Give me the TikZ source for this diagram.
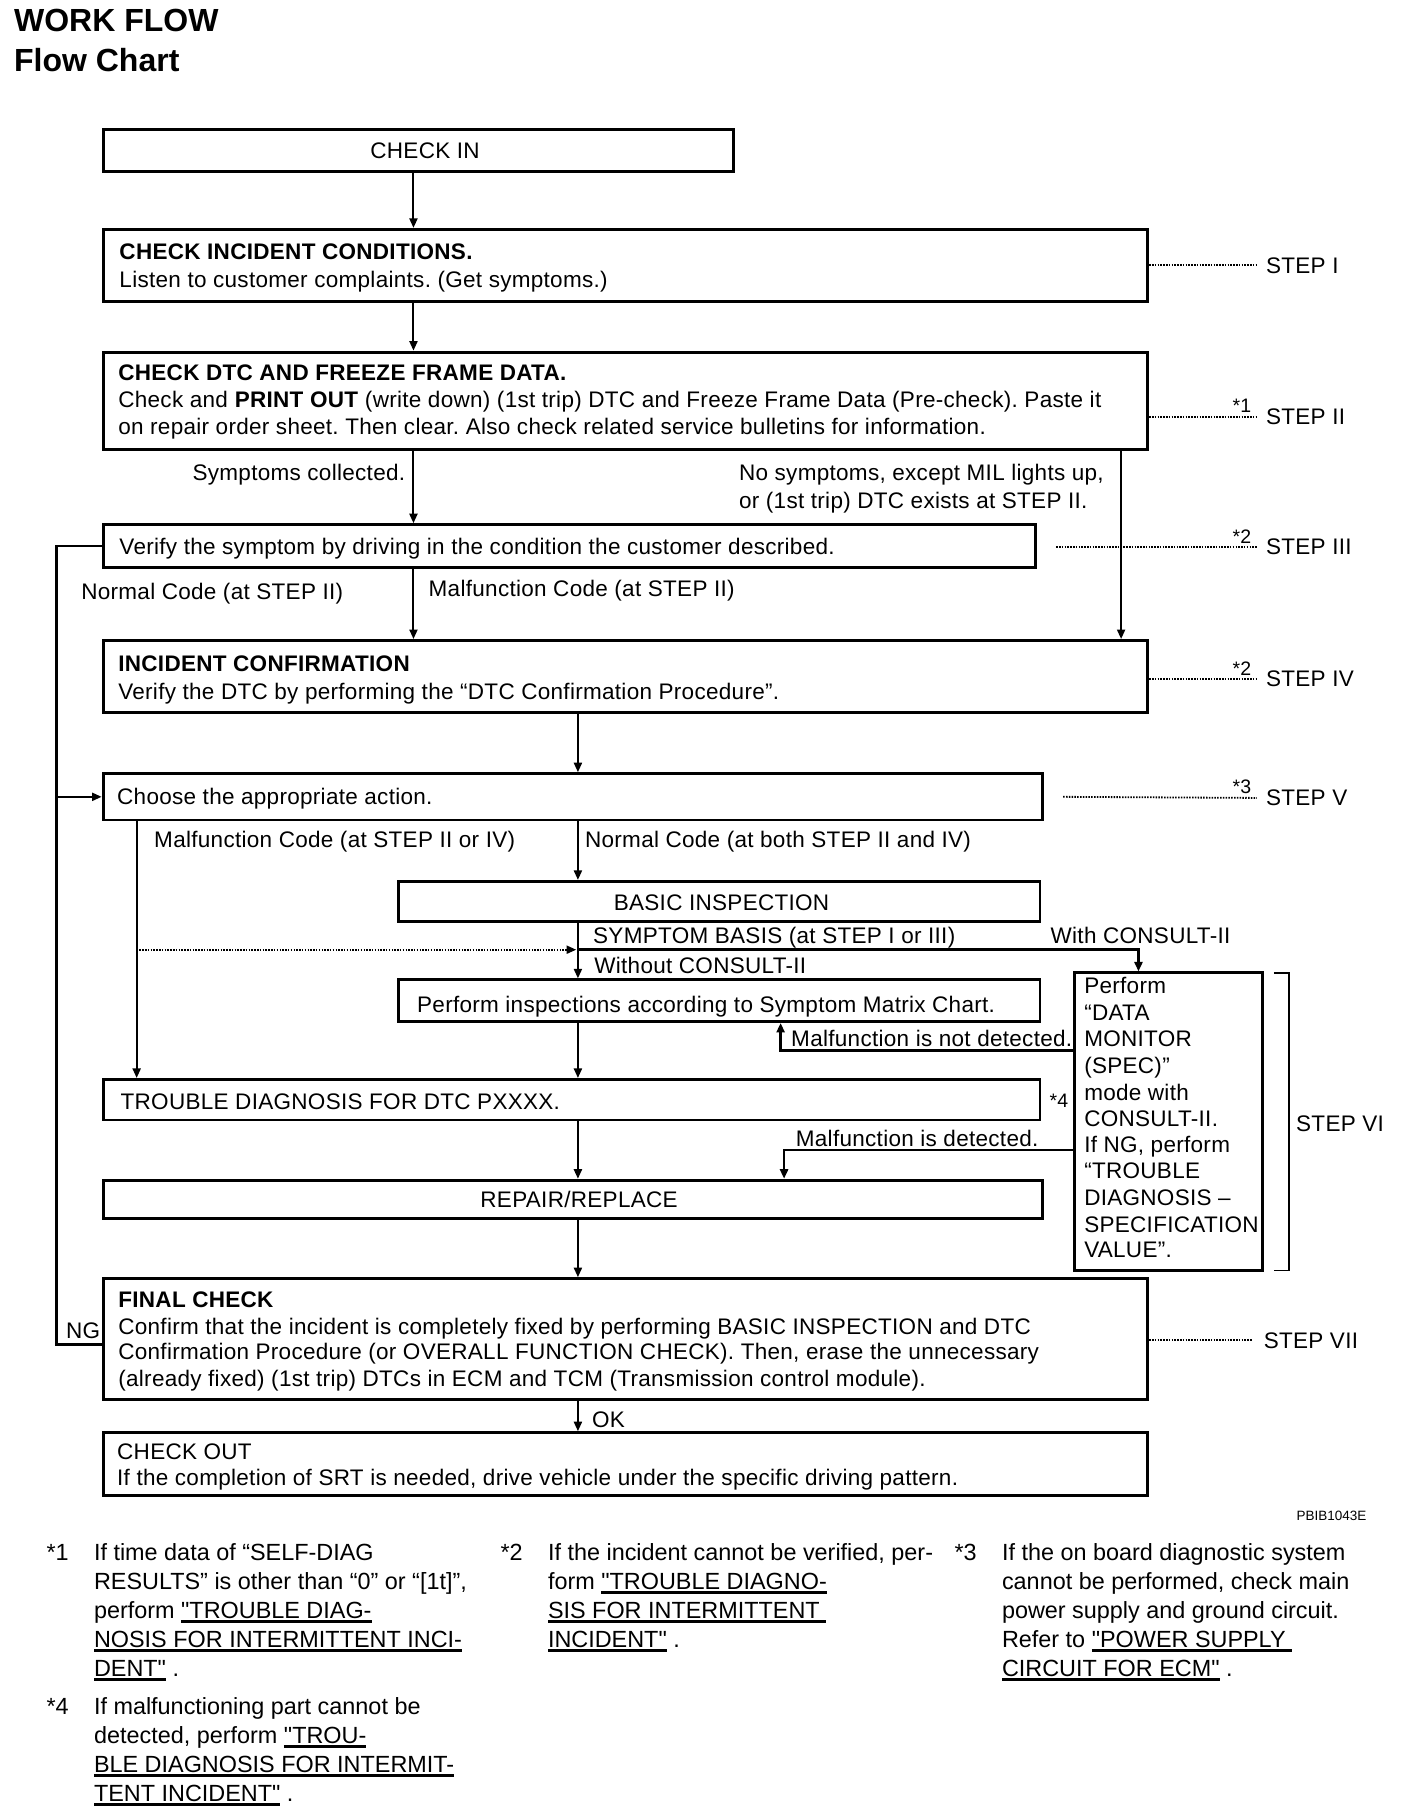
\documentclass[tikz,border=0pt]{standalone}
\usepackage{fontspec}
\setmainfont{Liberation Sans}[Ligatures=TeXOff,LetterSpace=1.3]
\newfontfamily\fnfont{Liberation Sans}[Ligatures=TeXOff]
\usetikzlibrary{arrows.meta,calc,fit}
\newcommand\myul[1]{\setbox0=\hbox{#1}\rlap{\rule[-4.5pt]{\wd0}{2.8pt}}\box0}
\frenchspacing
\begin{document}
\begin{tikzpicture}[x=1.15789pt,y=-1.15789pt,
  box/.style={draw,line width=2.9pt,inner sep=0pt},
  txt/.style={inner sep=0pt,anchor=west,text height=16pt,text depth=0pt,font=\fontsize{22.5}{27}\selectfont},
  txtc/.style={txt,anchor=center},
  txte/.style={txt,anchor=east},
  star/.style={inner sep=0pt,anchor=west,text height=14pt,text depth=0pt,font=\fontsize{19.5}{23}\selectfont},
  fn/.style={inner sep=0pt,anchor=west,text height=17pt,text depth=0pt,font=\fontsize{23.4}{28}\fnfont\frenchspacing},
  ttl/.style={inner sep=0pt,anchor=west,text height=23pt,text depth=0pt,font=\fontsize{32}{38}\fnfont\bfseries},
  tip/.style={-{Triangle[length=9.5pt,width=8pt]}},
  arr/.style={line width=2pt,tip},
  ln/.style={line width=1.8pt},
  thk/.style={line width=2.8pt},
  dots/.style={line width=1.8pt,dash pattern=on 1.5pt off 1.3pt},
]
\path[use as bounding box,fill=white] (0,0) rectangle (1216,1568);

% title
\node[ttl] (h1) at (12,17) {WORK FLOW};
\node[ttl] (h2) at (12,52) {Flow Chart};

% boxes
\node[box,fit={(89,112) (633,148)}] (checkin) {};
\node[box,fit={(89,198) (991,260)}] (cic) {};
\node[box,fit={(89,304) (991,388)}] (dtc) {};
\node[box,fit={(89,453) (894,490)}] (verify) {};
\node[box,fit={(89,553) (991,615)}] (ic) {};
\node[box,fit={(89,668) (900,708)}] (choose) {};
\node[box,fit={(344,761) (898,796)}] (basic) {};
\node[box,fit={(344,846) (898,882)}] (perfinsp) {};
\node[box,fit={(89,932) (898,967)}] (trouble) {};
\node[box,fit={(89,1019) (900,1052)}] (repair) {};
\node[box,fit={(89,1104) (991,1208)}] (final) {};
\node[box,fit={(89,1237) (991,1291)}] (checkout) {};
\node[box,fit={(928,840) (1090,1097)}] (perform) {};

% box texts
\node[txtc] (tci) at (367,130) {CHECK IN};
\node[txt,font=\fontsize{22.5}{27}\selectfont\bfseries] (tcic1) at (103,217) {CHECK INCIDENT CONDITIONS.};
\node[txt] (tcic2) at (103,241) {Listen to customer complaints. (Get symptoms.)};
\node[txt,font=\fontsize{22.5}{27}\selectfont\bfseries] (tdtc1) at (102,322) {CHECK DTC AND FREEZE FRAME DATA.};
\node[txt] (tdtc2) at (102,345) {Check and \textbf{PRINT OUT} (write down) (1st trip) DTC and Freeze Frame Data (Pre-check). Paste it};
\node[txt] (tdtc3) at (102,368) {on repair order sheet. Then clear. Also check related service bulletins for information.};
\node[txt] (tver) at (103,472) {Verify the symptom by driving in the condition the customer described.};
\node[txt,font=\fontsize{22.5}{27}\selectfont\bfseries] (tic1) at (102,573) {INCIDENT CONFIRMATION};
\node[txt] (tic2) at (102,597) {Verify the DTC by performing the “DTC Confirmation Procedure”.};
\node[txt] (tcho) at (101,688) {Choose the appropriate action.};
\node[txtc] (tbas) at (623,779) {BASIC INSPECTION};
\node[txt] (tpi) at (360,867) {Perform inspections according to Symptom Matrix Chart.};
\node[txt] (ttro) at (104,951) {TROUBLE DIAGNOSIS FOR DTC PXXXX.};
\node[txtc] (trep) at (500,1036) {REPAIR/REPLACE};
\node[txt,font=\fontsize{22.5}{27}\selectfont\bfseries] (tfc1) at (102,1122) {FINAL CHECK};
\node[txt] (tfc2) at (102,1145) {Confirm that the incident is completely fixed by performing BASIC INSPECTION and DTC};
\node[txt] (tfc3) at (102,1167) {Confirmation Procedure (or OVERALL FUNCTION CHECK). Then, erase the unnecessary};
\node[txt] (tfc4) at (102,1190) {(already fixed) (1st trip) DTCs in ECM and TCM (Transmission control module).};
\node[txt] (tco1) at (101,1253) {CHECK OUT};
\node[txt] (tco2) at (101,1276) {If the completion of SRT is needed, drive vehicle under the specific driving pattern.};

% consult box text
\node[txt] (p1) at (936,851) {Perform};
\node[txt] (p2) at (936,874) {“DATA};
\node[txt] (p3) at (936,897) {MONITOR};
\node[txt] (p4) at (936,920) {(SPEC)”};
\node[txt] (p5) at (936,943) {mode with};
\node[txt] (p6) at (936,966) {CONSULT-II.};
\node[txt] (p7) at (936,988) {If NG, perform};
\node[txt] (p8) at (936,1011) {“TROUBLE};
\node[txt] (p9) at (936,1034) {DIAGNOSIS –};
\node[txt] (p10) at (936,1057) {SPECIFICATION};
\node[txt] (p11) at (936,1079) {VALUE”.};

% connector labels
\node[txte] (lsc) at (350,408) {Symptoms collected.};
\node[txt] (lns1) at (638,408) {No symptoms, except MIL lights up,};
\node[txt] (lns2) at (638,432) {or (1st trip) DTC exists at STEP II.};
\node[txt] (lnc) at (70,511) {Normal Code (at STEP II)};
\node[txt] (lmc) at (370,508) {Malfunction Code (at STEP II)};
\node[txt] (lmc2) at (133,725) {Malfunction Code (at STEP II or IV)};
\node[txt] (lnc2) at (505,725) {Normal Code (at both STEP II and IV)};
\node[txt] (lsb) at (512,808) {SYMPTOM BASIS (at STEP I or III)};
\node[txt] (lwc) at (907,808) {With CONSULT-II};
\node[txt] (lwoc) at (513,834) {Without CONSULT-II};
\node[txt] (lnd) at (683,897) {Malfunction is not detected.};
\node[txt] (ld) at (687,983) {Malfunction is detected.};
\node[txt] (lng) at (57,1149) {NG};
\node[txt] (lok) at (511,1226) {OK};
\node[star] (s4) at (906,950) {*4};
\node[inner sep=0pt,anchor=east,font=\fontsize{13.5}{16}\fnfont] (code) at (1180,1309) {PBIB1043E};

% step labels
\node[txt] (st1) at (1093,229) {STEP I};
\node[txt] (st2) at (1093,360) {STEP II};
\node[txt] (st3) at (1093,472) {STEP III};
\node[txt] (st4) at (1093,586) {STEP IV};
\node[txt] (st5) at (1093,689) {STEP V};
\node[txt] (st6) at (1119,970) {STEP VI};
\node[txt] (st7) at (1091,1157) {STEP VII};
\node[star] (a1) at (1064,350) {*1};
\node[star] (a2) at (1064,463) {*2};
\node[star] (a3) at (1064,577) {*2};
\node[star] (a4) at (1064,679) {*3};

% dotted step lines
\coordinate (s3) at (912,472);
\coordinate (s5) at (918,688);
\draw[dots,shorten >=9pt] (cic.east |- st1.west) -- (st1.west);
\draw[dots,shorten >=9pt] (dtc.east |- st2.west) -- (st2.west);
\draw[dots,shorten >=9pt] (s3) -- (st3.west);
\draw[dots,shorten >=9pt] (ic.east |- st4.west) -- (st4.west);
\draw[dots,shorten >=9pt] (s5) -- (st5.west);
\draw[dots,shorten >=12pt] (final.east |- st7.west) -- (st7.west);

% STEP VI bracket
\coordinate (bt) at (1100,840);
\coordinate (bb) at (1100,1097);
\draw[ln] (bt) -- ++(13,0) |- (bb);

% columns
\coordinate (colA) at (357,0);
\coordinate (colB) at (499,0);
\coordinate (colC) at (968,0);
\coordinate (colD) at (118,0);
\coordinate (colL) at (49,0);
\coordinate (colE) at (983,0);
\coordinate (colF) at (674,0);
\coordinate (colG) at (677,0);
\coordinate (ngy) at (0,1161);

% main arrows
\draw[arr] (colA |- checkin.south) -- (colA |- cic.north);
\draw[arr] (colA |- cic.south) -- (colA |- dtc.north);
\draw[arr] (colA |- dtc.south) -- (colA |- verify.north);
\draw[arr] (colA |- verify.south) -- (colA |- ic.north);
\draw[arr] (colC |- dtc.south) -- (colC |- ic.north);
\draw[arr] (colB |- ic.south) -- (colB |- choose.north);
\draw[arr] (colB |- choose.south) -- (colB |- basic.north);
\draw[arr] (colB |- basic.south) -- (colB |- perfinsp.north);
\draw[arr] (colB |- perfinsp.south) -- (colB |- trouble.north);
\draw[arr] (colB |- trouble.south) -- (colB |- repair.north);
\draw[arr] (colB |- repair.south) -- (colB |- final.north);
\draw[arr] (colB |- final.south) -- (colB |- checkout.north);
\draw[arr] (colD |- choose.south) -- (colD |- trouble.north);

% symptom basis branch
\coordinate (sb) at (499,820);
\draw[dots,tip] (colD |- sb) -- ($(sb)+(-1.5,0)$);
\draw[thk,tip] (sb) -| (colE |- perform.north);

% loop NG / normal code
\draw[thk] (verify.west) -| (colL |- ngy) -- (final.west |- ngy);
\draw[arr] (colL |- choose.west) -- (choose.west);

% consult results
\coordinate (nd) at (928,907);
\coordinate (dd) at (928,993);
\draw[thk,tip] (nd) -| (colF |- perfinsp.south);
\draw[thk,tip] (dd) -| (colG |- repair.north);

% footnotes
\node[fn] (f1m) at (40,1340) {*1};
\node[fn] (f11) at (81,1340) {If time data of “SELF-DIAG};
\node[fn] (f12) at (81,1365) {RESULTS” is other than “0” or “[1t]”,};
\node[fn] (f13) at (81,1390) {perform \myul{"TROUBLE DIAG-}};
\node[fn] (f14) at (81,1415) {\myul{NOSIS FOR INTERMITTENT INCI-}};
\node[fn] (f15) at (81,1440) {\myul{DENT"}\ .};
\node[fn] (f4m) at (40,1473) {*4};
\node[fn] (f41) at (81,1473) {If malfunctioning part cannot be};
\node[fn] (f42) at (81,1498) {detected, perform \myul{"TROU-}};
\node[fn] (f43) at (81,1523) {\myul{BLE DIAGNOSIS FOR INTERMIT-}};
\node[fn] (f44) at (81,1548) {\myul{TENT INCIDENT"}\ .};
\node[fn] (f2m) at (432,1340) {*2};
\node[fn] (f21) at (473,1340) {If the incident cannot be verified, per-};
\node[fn] (f22) at (473,1365) {form \myul{"TROUBLE DIAGNO-}};
\node[fn] (f23) at (473,1390) {\myul{SIS FOR INTERMITTENT\ }};
\node[fn] (f24) at (473,1415) {\myul{INCIDENT"}\ .};
\node[fn] (f3m) at (824,1340) {*3};
\node[fn] (f31) at (865,1340) {If the on board diagnostic system};
\node[fn] (f32) at (865,1365) {cannot be performed, check main};
\node[fn] (f33) at (865,1390) {power supply and ground circuit.};
\node[fn] (f34) at (865,1415) {Refer to \myul{"POWER SUPPLY\ }};
\node[fn] (f35) at (865,1440) {\myul{CIRCUIT FOR ECM"}\ .};
\end{tikzpicture}
\end{document}
